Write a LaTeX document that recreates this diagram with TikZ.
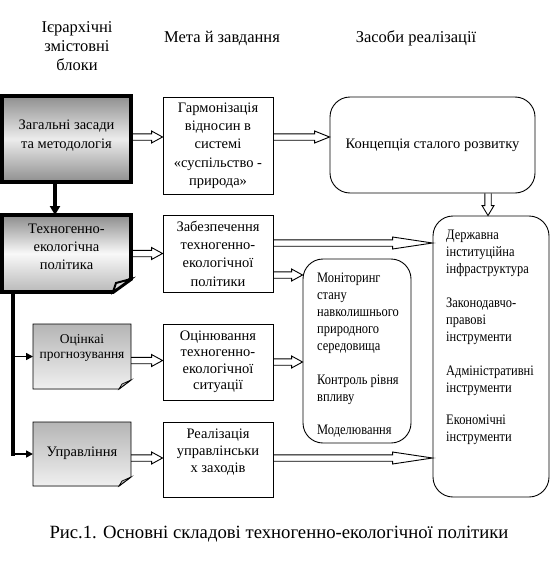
\documentclass[tikz,border=0pt]{standalone}
\usepackage{fontspec}
\setmainfont{Liberation Serif}
\newfontfamily\condfont[FakeStretch=0.86]{Liberation Serif}
\usetikzlibrary{calc,arrows.meta}
\tikzset{
  lbl/.style={font=\fontsize{14.5}{18.3}\selectfont, align=center, inner sep=0pt},
  goalbox/.style={lbl, draw=black, line width=0.9pt, minimum width=110pt},
  leftbox/.style={lbl, outer sep=0pt},
  outline/.style={draw=black, line join=miter},
  foldfill/.style={fill=gray!55, draw=black, line width=0.7pt, line join=miter},
  roundbox/.style={draw=black, line width=0.9pt, rounded corners=20pt, inner sep=0pt},
  condtxt/.style={font=\condfont\fontsize{14.5}{17}\selectfont, align=left, inner sep=0pt},
  head/.style={font=\fontsize{16.5}{19}\selectfont, align=center, inner sep=0pt},
  thickarr/.style={line width=3.5pt, -{Triangle[length=9pt,width=10pt]}},
  brancharr/.style={line width=1.6pt, -{Triangle[length=7pt,width=7pt]}},
  blockarr/.style={draw=black, line width=0.9pt, line join=miter},
}
\newcommand\harr[3][11]{\draw[blockarr] let \p1=(#2), \p2=(#3) in
  (\x1,\y1+3.2pt) -- (\x2-#1pt,\y1+3.2pt) -- (\x2-#1pt,\y1+6pt) -- (\x2,\y1)
  -- (\x2-#1pt,\y1-6pt) -- (\x2-#1pt,\y1-3.2pt) -- (\x1,\y1-3.2pt);}
\newcommand\varr[3][10]{\draw[blockarr] let \p1=(#2), \p2=(#3) in
  (\x1-3.2pt,\y1) -- (\x1-3.2pt,\y2+#1pt) -- (\x1-6pt,\y2+#1pt) -- (\x1,\y2)
  -- (\x1+6pt,\y2+#1pt) -- (\x1+3.2pt,\y2+#1pt) -- (\x1+3.2pt,\y1);}
\newcommand\foldbox[5]{%
  \fill[white] ($(#1.south east)+(1.5,-#2)$) -- ($(#1.south east)+(1.5,1.5)$) -- ($(#1.south east)+(-#3,1.5)$) -- cycle;
  \draw[outline, line width=#4] (#1.north west) -- (#1.north east) -- ($(#1.south east)+(0,-#2)$)
     -- ($(#1.south east)+(-#3,0)$) -- (#1.south west) -- cycle;
  \draw[foldfill, #5] ($(#1.south east)+(0,-#2)$) -- ($(#1.south east)+(-#3+3,-#2+4)$)
     -- ($(#1.south east)+(-#3,0)$) -- cycle;}
\begin{document}
\begin{tikzpicture}[x=1pt,y=-1pt]
\useasboundingbox (0,0) rectangle (553,562);
% headers
\node[head] (h1) at (77,46) {Ієрархічні\\змістовні\\блоки};
\node[head] (h2) at (222,38) {Мета й завдання};
\node[head] (h3) at (416,38) {Засоби реалізації};
% left column
\node[leftbox, draw=black, line width=4pt, minimum width=129pt, minimum height=86pt,
      top color=gray!88, bottom color=gray!88, middle color=gray!15] (b1) at (66.5,139) {};
\node[lbl] (b1t) at (66.5,135.5) {Загальні засади\\та методологія};
\node[leftbox, minimum width=129pt, minimum height=77pt,
      top color=gray!90, bottom color=gray!55, middle color=gray!5] (b2) at (66.5,253.5) {};
\foldbox{b2}{13}{18}{3.8pt}{fill=gray!30, line width=2pt}
\node[lbl] (b2t) at (66.5,247) {Техногенно-\\екологічна\\політика};
\node[leftbox, minimum width=98pt, minimum height=65pt,
      top color=gray!58, bottom color=gray!12] (b3) at (82,356.5) {};
\foldbox{b3}{9}{12}{0.9pt}{}
\node[lbl, font=\fontsize{13.5}{15}\selectfont] (b3t) at (82,348) {Оцінкаі\\прогнозування};
\node[leftbox, minimum width=98pt, minimum height=64pt,
      top color=gray!58, bottom color=gray!12] (b4) at (82,454) {};
\foldbox{b4}{9}{12}{0.9pt}{}
\node[lbl] (b4t) at (82,453) {Управління};
% middle column
\node[goalbox, minimum height=97pt] (harm) at (218,145.5)
  {Гармонізація\\відносин в\\системі\\«суспільство -\\природа»};
\node[goalbox, minimum height=77pt] (zab) at (218,253.5)
  {Забезпечення\\техногенно-\\екологічної\\політики};
\node[goalbox, minimum height=76pt, font=\fontsize{14.5}{16.5}\selectfont] (ocin) at (218,362)
  {Оцінювання\\техногенно-\\екологічної\\ситуації};
\node[goalbox, minimum height=75pt] (real) at (218,459.5) {};
\node[lbl, font=\fontsize{14.5}{17}\selectfont] (realt) at (218,452) {Реалізація\\управлінськи\\х заходів};
% right column
\node[roundbox, lbl, minimum width=205pt, minimum height=96pt] (concept) at (432.5,145)
  {Концепція сталого розвитку};
\node[roundbox, minimum width=108pt, minimum height=184pt] (mon) at (357,351) {};
\node[condtxt, anchor=north west] (montxt) at (317,273)
  {Моніторинг\\стану\\навколишнього\\природного\\середовища\\[17pt]Контроль рівня\\впливу\\[16pt]Моделювання};
\node[roundbox, minimum width=116pt, minimum height=281pt] (big) at (491,356.5) {};
\node[condtxt, anchor=north west] (bigtxt) at (446,230)
  {Державна\\інституційна\\інфраструктура\\[17pt]Законодавчо-\\правові\\інструменти\\[17pt]Адміністративні\\інструменти\\[15pt]Економічні\\інструменти};
% caption
\node[font=\fontsize{18.7}{22}\selectfont, inner sep=0pt] (cap) at (279,534)
  {Рис.1. Основні складові техногенно-екологічної політики};
% hierarchy connectors
\draw[thickarr] ($(b1.south west)+(53,0)$) -- ($(b2.north west)+(53,0)$);
\coordinate (ttop) at ($(b2.south west)+(11,0)$);
\draw[line width=3.5pt] (ttop) -- ($(ttop |- b4.west)+(0,1.75)$);
\draw[brancharr] (ttop |- b3.west) -- (b3.west);
\draw[brancharr] (ttop |- b4.west) -- (b4.west);
% block arrows
\harr{$(b1.east)+(0,-2)$}{harm.west}
\harr[15]{$(harm.east)+(0,-8.5)$}{concept.west}
\harr{b2.east}{zab.west}
\harr[40]{$(zab.east)+(0,-10.5)$}{big.west}
\harr{$(zab.east)+(0,21.5)$}{mon.west}
\harr{$(b3.east)+(0,4)$}{ocin.west}
\harr{ocin.east}{mon.west}
\harr{$(b4.east)+(0,4)$}{real.west}
\harr[40]{$(real.east)+(0,-1.5)$}{big.west}
\varr{$(concept.south)+(55.5,0)$}{big.north}
\end{tikzpicture}
\end{document}
